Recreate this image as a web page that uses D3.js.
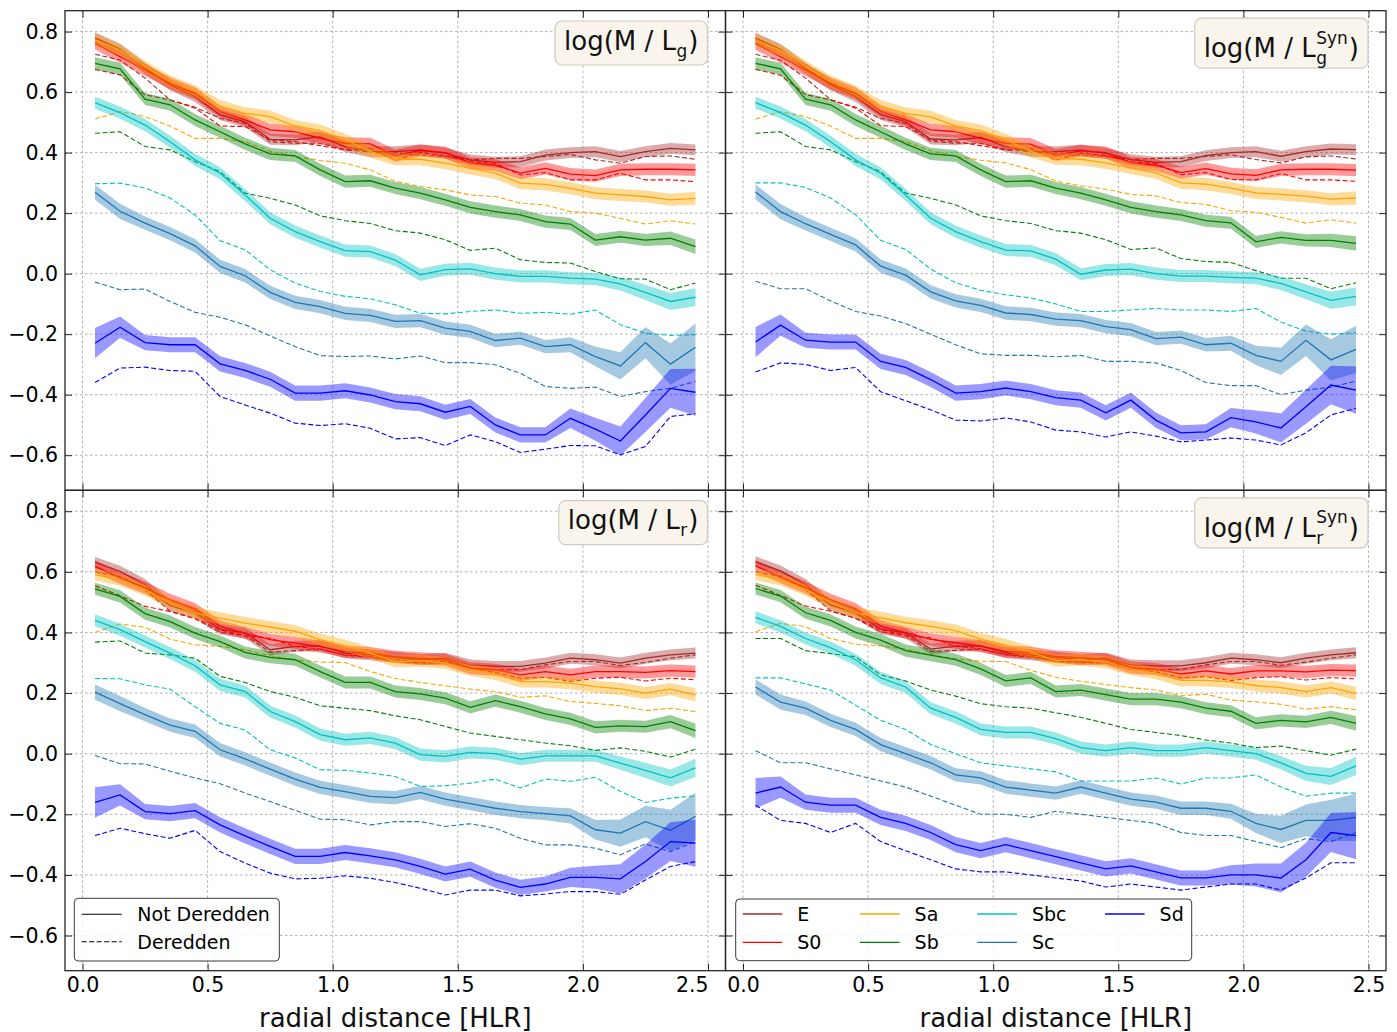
<!DOCTYPE html>
<html><head><meta charset="utf-8">
<script src="https://cdn.jsdelivr.net/npm/d3@7"></script>
<style>body{margin:0;background:#fff}svg text{font-family:"DejaVu Sans",sans-serif}</style>
</head><body><svg id="chart" width="1397" height="1032"></svg>
<script>
// ---------------- data ----------------
const radius = [0.05,0.15,0.25,0.35,0.45,0.55,0.65,0.75,0.85,0.95,1.05,1.15,1.25,1.35,1.45,1.55,1.65,1.75,1.85,1.95,2.05,2.15,2.25,2.35,2.45];
const seriesNames = ["E","S0","Sa","Sb","Sbc","Sc","Sd"];
const xTicks = [0.0,0.5,1.0,1.5,2.0,2.5];
const yTicks = [0.8,0.6,0.4,0.2,0.0,-0.2,-0.4,-0.6];
const styleNames = ["Not Deredden","Deredden"];
const xLabel = "radial distance [HLR]";

// band half-widths (per series)
const bandE  = [0.018,0.018,0.018,0.018,0.018,0.018,0.018,0.018,0.018,0.018,0.018,0.018,0.018,0.018,0.018,0.018,0.018,0.018,0.018,0.018,0.018,0.018,0.018,0.018,0.018];
const bandS0 = [0.02,0.02,0.02,0.02,0.02,0.02,0.02,0.02,0.02,0.02,0.02,0.02,0.02,0.02,0.02,0.02,0.02,0.02,0.02,0.02,0.02,0.02,0.02,0.02,0.02];
const bandSa = [0.02,0.02,0.02,0.02,0.02,0.02,0.02,0.02,0.02,0.02,0.02,0.02,0.02,0.02,0.02,0.02,0.02,0.02,0.02,0.02,0.02,0.02,0.02,0.02,0.022];
const bandSb = [0.02,0.02,0.02,0.02,0.02,0.02,0.02,0.02,0.02,0.02,0.02,0.02,0.02,0.02,0.02,0.02,0.02,0.02,0.02,0.02,0.02,0.02,0.02,0.022,0.024];
const bandSbc= [0.02,0.02,0.02,0.02,0.02,0.02,0.02,0.02,0.02,0.02,0.02,0.02,0.02,0.02,0.02,0.02,0.02,0.02,0.02,0.02,0.02,0.022,0.025,0.028,0.03];
const bandSc = [0.025,0.025,0.022,0.022,0.022,0.022,0.022,0.022,0.022,0.022,0.022,0.022,0.022,0.022,0.022,0.022,0.022,0.022,0.022,0.025,0.032,0.045,0.052,0.068,0.078];
const bandSd = [0.05,0.035,0.025,0.025,0.025,0.025,0.025,0.025,0.025,0.025,0.025,0.025,0.025,0.025,0.025,0.025,0.025,0.025,0.025,0.032,0.038,0.048,0.056,0.064,0.078];

// Panel log(M/L_g)
const g_E    = [0.78,0.742,0.679,0.624,0.585,0.525,0.502,0.444,0.442,0.453,0.42,0.403,0.403,0.409,0.398,0.376,0.368,0.37,0.392,0.40,0.403,0.387,0.403,0.414,0.409];
const g_E_d  = [0.725,0.706,0.646,0.574,0.55,0.513,0.497,0.436,0.431,0.431,0.409,0.403,0.398,0.392,0.387,0.376,0.381,0.381,0.387,0.394,0.376,0.365,0.387,0.389,0.378];
const g_S0   = [0.761,0.717,0.673,0.629,0.596,0.536,0.508,0.475,0.469,0.447,0.431,0.429,0.39,0.407,0.40,0.365,0.359,0.332,0.348,0.329,0.324,0.343,0.345,0.345,0.343];
const g_S0_d = [0.675,0.657,0.591,0.574,0.547,0.488,0.486,0.442,0.436,0.423,0.409,0.414,0.375,0.40,0.39,0.37,0.365,0.326,0.334,0.31,0.31,0.332,0.31,0.31,0.304];
const g_Sa   = [0.772,0.739,0.684,0.635,0.602,0.554,0.53,0.519,0.488,0.473,0.442,0.403,0.378,0.378,0.365,0.348,0.332,0.299,0.295,0.282,0.266,0.26,0.255,0.244,0.249];
const g_Sa_d = [0.511,0.536,0.519,0.488,0.447,0.447,0.436,0.405,0.387,0.374,0.365,0.343,0.305,0.288,0.277,0.26,0.255,0.233,0.227,0.205,0.2,0.183,0.164,0.175,0.164];
const g_Sb   = [0.695,0.677,0.577,0.558,0.508,0.469,0.429,0.396,0.389,0.343,0.304,0.307,0.283,0.266,0.244,0.219,0.205,0.194,0.172,0.164,0.111,0.122,0.111,0.117,0.089];
const g_Sb_d = [0.464,0.469,0.42,0.409,0.37,0.337,0.266,0.249,0.227,0.191,0.175,0.166,0.142,0.134,0.112,0.077,0.084,0.046,0.037,0.035,0.007,-0.017,-0.018,-0.053,-0.031];
const g_Sbc  = [0.565,0.532,0.491,0.436,0.376,0.332,0.26,0.183,0.139,0.106,0.076,0.073,0.045,-0.004,0.013,0.016,0.0,-0.009,-0.009,-0.015,-0.018,-0.034,-0.062,-0.092,-0.078];
const g_Sbc_d= [0.297,0.299,0.283,0.25,0.194,0.109,0.079,0.013,-0.031,-0.059,-0.075,-0.083,-0.103,-0.131,-0.133,-0.125,-0.12,-0.131,-0.128,-0.134,-0.12,-0.169,-0.197,-0.204,-0.202];
const g_Sc   = [0.269,0.206,0.167,0.132,0.092,0.024,-0.007,-0.062,-0.095,-0.109,-0.131,-0.138,-0.158,-0.155,-0.18,-0.191,-0.221,-0.213,-0.241,-0.235,-0.274,-0.305,-0.228,-0.299,-0.243];
const g_Sc_d = [-0.028,-0.053,-0.051,-0.092,-0.128,-0.144,-0.169,-0.206,-0.241,-0.271,-0.274,-0.272,-0.282,-0.272,-0.294,-0.294,-0.301,-0.329,-0.373,-0.379,-0.375,-0.406,-0.39,-0.379,-0.356];
const g_Sd   = [-0.23,-0.177,-0.228,-0.235,-0.235,-0.298,-0.32,-0.349,-0.395,-0.395,-0.387,-0.401,-0.423,-0.43,-0.458,-0.439,-0.5,-0.533,-0.533,-0.478,-0.514,-0.553,-0.467,-0.379,-0.392];
const g_Sd_d = [-0.36,-0.312,-0.309,-0.32,-0.323,-0.406,-0.434,-0.461,-0.494,-0.502,-0.496,-0.511,-0.546,-0.542,-0.568,-0.533,-0.555,-0.591,-0.58,-0.568,-0.569,-0.599,-0.571,-0.472,-0.463];

// Panel log(M/L_g^Syn)
const gs_E    = [0.779,0.741,0.679,0.624,0.585,0.526,0.502,0.445,0.442,0.45,0.42,0.404,0.403,0.408,0.398,0.377,0.368,0.37,0.39,0.40,0.403,0.388,0.403,0.412,0.41];
const gs_E_d  = [0.725,0.705,0.646,0.575,0.55,0.513,0.497,0.437,0.431,0.431,0.41,0.403,0.398,0.392,0.387,0.377,0.381,0.381,0.387,0.393,0.377,0.366,0.386,0.389,0.379];
const gs_S0   = [0.76,0.717,0.673,0.629,0.596,0.537,0.508,0.475,0.469,0.447,0.431,0.428,0.392,0.406,0.40,0.366,0.359,0.334,0.347,0.33,0.325,0.343,0.345,0.345,0.342];
const gs_S0_d = [0.675,0.656,0.592,0.574,0.547,0.489,0.486,0.442,0.436,0.423,0.409,0.413,0.376,0.398,0.39,0.37,0.364,0.327,0.334,0.311,0.31,0.331,0.31,0.31,0.305];
const gs_Sa   = [0.771,0.738,0.684,0.635,0.601,0.554,0.53,0.518,0.488,0.473,0.442,0.404,0.38,0.378,0.366,0.349,0.333,0.30,0.296,0.283,0.267,0.262,0.256,0.246,0.25];
const gs_Sa_d = [0.511,0.535,0.519,0.488,0.447,0.447,0.436,0.406,0.388,0.375,0.366,0.344,0.306,0.29,0.279,0.262,0.257,0.235,0.229,0.208,0.203,0.186,0.167,0.178,0.167];
const gs_Sb   = [0.695,0.677,0.577,0.558,0.508,0.469,0.429,0.396,0.389,0.343,0.304,0.307,0.283,0.266,0.244,0.219,0.205,0.194,0.175,0.168,0.105,0.12,0.11,0.11,0.10];
const gs_Sb_d = [0.464,0.469,0.42,0.409,0.37,0.337,0.266,0.249,0.227,0.191,0.175,0.166,0.142,0.134,0.112,0.08,0.085,0.05,0.04,0.037,0.01,-0.015,-0.015,-0.05,-0.03];
const gs_Sbc  = [0.565,0.532,0.491,0.436,0.376,0.332,0.26,0.183,0.139,0.106,0.078,0.075,0.048,-0.002,0.012,0.015,0.0,-0.008,-0.008,-0.012,-0.015,-0.032,-0.06,-0.088,-0.075];
const gs_Sbc_d= [0.30,0.30,0.285,0.25,0.195,0.11,0.08,0.015,-0.03,-0.055,-0.07,-0.08,-0.10,-0.125,-0.125,-0.12,-0.115,-0.12,-0.12,-0.125,-0.115,-0.16,-0.19,-0.20,-0.195];
const gs_Sc   = [0.27,0.205,0.165,0.13,0.095,0.025,-0.005,-0.06,-0.09,-0.105,-0.13,-0.135,-0.15,-0.155,-0.175,-0.185,-0.215,-0.21,-0.235,-0.23,-0.27,-0.29,-0.22,-0.285,-0.25];
const gs_Sc_d = [-0.025,-0.05,-0.05,-0.09,-0.125,-0.14,-0.165,-0.2,-0.235,-0.265,-0.27,-0.27,-0.275,-0.27,-0.29,-0.29,-0.295,-0.32,-0.36,-0.37,-0.37,-0.40,-0.385,-0.375,-0.355];
const gs_Sd   = [-0.226,-0.17,-0.22,-0.226,-0.226,-0.29,-0.31,-0.35,-0.395,-0.39,-0.378,-0.39,-0.41,-0.418,-0.46,-0.418,-0.484,-0.526,-0.523,-0.476,-0.49,-0.51,-0.44,-0.368,-0.385];
const gs_Sd_d = [-0.325,-0.295,-0.30,-0.32,-0.31,-0.39,-0.42,-0.45,-0.484,-0.487,-0.477,-0.49,-0.517,-0.523,-0.54,-0.523,-0.537,-0.556,-0.55,-0.543,-0.55,-0.566,-0.526,-0.467,-0.445];

// Panel log(M/L_r)
const r_E    = [0.631,0.602,0.558,0.488,0.466,0.411,0.398,0.343,0.354,0.356,0.332,0.326,0.318,0.31,0.315,0.293,0.288,0.288,0.299,0.315,0.31,0.299,0.315,0.326,0.332];
const r_E_d  = [0.60,0.585,0.54,0.47,0.445,0.40,0.39,0.335,0.34,0.345,0.325,0.318,0.31,0.304,0.304,0.282,0.277,0.277,0.293,0.304,0.304,0.291,0.301,0.315,0.326];
const r_S0   = [0.618,0.58,0.547,0.508,0.477,0.42,0.398,0.376,0.365,0.354,0.337,0.332,0.32,0.315,0.31,0.282,0.277,0.26,0.271,0.26,0.271,0.271,0.268,0.274,0.271];
const r_S0_d = [0.554,0.521,0.486,0.469,0.447,0.409,0.389,0.381,0.354,0.345,0.326,0.321,0.305,0.30,0.299,0.277,0.268,0.249,0.252,0.238,0.249,0.252,0.24,0.249,0.244];
const r_Sa   = [0.591,0.574,0.541,0.497,0.464,0.447,0.431,0.418,0.404,0.376,0.356,0.332,0.304,0.307,0.299,0.277,0.263,0.238,0.238,0.233,0.221,0.214,0.2,0.213,0.194];
const r_Sa_d = [0.40,0.428,0.417,0.378,0.359,0.354,0.343,0.323,0.31,0.302,0.301,0.271,0.248,0.235,0.224,0.213,0.205,0.186,0.191,0.172,0.166,0.158,0.142,0.15,0.139];
const r_Sb   = [0.544,0.519,0.462,0.436,0.398,0.37,0.334,0.318,0.31,0.271,0.235,0.235,0.205,0.197,0.183,0.153,0.175,0.155,0.131,0.115,0.087,0.092,0.089,0.106,0.076];
const r_Sb_d = [0.368,0.372,0.332,0.326,0.315,0.255,0.235,0.205,0.186,0.158,0.15,0.142,0.125,0.112,0.09,0.068,0.057,0.046,0.035,0.026,0.011,0.019,0.008,-0.011,0.015];
const r_Sbc  = [0.44,0.409,0.37,0.332,0.29,0.227,0.205,0.139,0.106,0.063,0.046,0.052,0.035,-0.003,-0.009,0.004,0.0,-0.018,-0.007,-0.007,-0.007,-0.031,-0.055,-0.08,-0.047];
const r_Sbc_d= [0.248,0.247,0.227,0.213,0.155,0.10,0.078,0.013,-0.014,-0.053,-0.055,-0.064,-0.075,-0.108,-0.106,-0.097,-0.084,-0.113,-0.084,-0.091,-0.078,-0.125,-0.161,-0.147,-0.139];
const r_Sc   = [0.203,0.165,0.129,0.094,0.074,0.013,-0.017,-0.051,-0.084,-0.111,-0.125,-0.141,-0.145,-0.128,-0.15,-0.165,-0.18,-0.191,-0.198,-0.205,-0.251,-0.262,-0.224,-0.253,-0.207];
const r_Sc_d = [-0.006,-0.033,-0.034,-0.058,-0.08,-0.099,-0.13,-0.158,-0.187,-0.216,-0.218,-0.235,-0.224,-0.224,-0.24,-0.231,-0.246,-0.279,-0.301,-0.301,-0.312,-0.334,-0.298,-0.323,-0.29];
const r_Sd   = [-0.161,-0.136,-0.191,-0.198,-0.188,-0.235,-0.271,-0.306,-0.339,-0.339,-0.326,-0.337,-0.35,-0.372,-0.397,-0.381,-0.417,-0.441,-0.43,-0.408,-0.408,-0.413,-0.356,-0.29,-0.295];
const r_Sd_d = [-0.27,-0.246,-0.264,-0.279,-0.253,-0.323,-0.361,-0.394,-0.413,-0.411,-0.403,-0.411,-0.425,-0.444,-0.466,-0.45,-0.45,-0.469,-0.463,-0.455,-0.455,-0.464,-0.417,-0.372,-0.356];

// Panel log(M/L_r^Syn)
const rs_E    = [0.633,0.603,0.558,0.49,0.466,0.412,0.398,0.345,0.355,0.356,0.333,0.326,0.318,0.31,0.315,0.293,0.29,0.29,0.30,0.315,0.31,0.30,0.315,0.326,0.333];
const rs_E_d  = [0.60,0.585,0.541,0.472,0.446,0.402,0.391,0.337,0.341,0.345,0.326,0.318,0.31,0.305,0.304,0.283,0.278,0.278,0.293,0.304,0.304,0.292,0.302,0.315,0.326];
const rs_S0   = [0.62,0.582,0.548,0.508,0.477,0.421,0.399,0.377,0.366,0.355,0.338,0.333,0.321,0.316,0.311,0.284,0.279,0.263,0.273,0.263,0.273,0.273,0.27,0.276,0.274];
const rs_S0_d = [0.556,0.522,0.487,0.47,0.448,0.41,0.39,0.382,0.355,0.346,0.327,0.322,0.306,0.301,0.30,0.279,0.27,0.251,0.254,0.241,0.251,0.254,0.243,0.251,0.247];
const rs_Sa   = [0.592,0.575,0.541,0.498,0.465,0.448,0.432,0.42,0.406,0.378,0.358,0.335,0.307,0.31,0.302,0.28,0.266,0.242,0.242,0.237,0.225,0.218,0.205,0.218,0.199];
const rs_Sa_d = [0.402,0.43,0.419,0.38,0.361,0.356,0.345,0.326,0.313,0.305,0.304,0.275,0.252,0.239,0.228,0.218,0.21,0.191,0.196,0.177,0.171,0.163,0.147,0.155,0.145];
const rs_Sb   = [0.545,0.52,0.465,0.44,0.40,0.375,0.34,0.325,0.31,0.28,0.24,0.25,0.205,0.21,0.195,0.18,0.18,0.17,0.15,0.14,0.10,0.11,0.105,0.12,0.10];
const rs_Sb_d = [0.38,0.38,0.34,0.33,0.32,0.26,0.24,0.21,0.19,0.165,0.155,0.15,0.135,0.12,0.10,0.08,0.07,0.06,0.045,0.035,0.02,0.025,0.01,-0.005,0.015];
const rs_Sbc  = [0.45,0.42,0.38,0.35,0.31,0.25,0.22,0.15,0.12,0.08,0.07,0.07,0.05,0.02,0.01,0.02,0.01,0.01,0.02,0.01,0.0,-0.03,-0.065,-0.075,-0.04];
const rs_Sbc_d= [0.25,0.25,0.23,0.21,0.16,0.11,0.08,0.03,0.0,-0.03,-0.04,-0.05,-0.06,-0.09,-0.09,-0.09,-0.08,-0.10,-0.08,-0.08,-0.07,-0.11,-0.14,-0.13,-0.13];
const rs_Sc   = [0.22,0.17,0.15,0.11,0.08,0.03,0.0,-0.03,-0.07,-0.08,-0.11,-0.12,-0.13,-0.11,-0.13,-0.15,-0.16,-0.18,-0.18,-0.19,-0.23,-0.25,-0.22,-0.22,-0.21];
const rs_Sc_d = [0.01,-0.03,-0.03,-0.05,-0.07,-0.09,-0.11,-0.14,-0.17,-0.20,-0.20,-0.21,-0.19,-0.20,-0.21,-0.22,-0.23,-0.26,-0.27,-0.27,-0.29,-0.31,-0.28,-0.29,-0.26];
const rs_Sd   = [-0.13,-0.11,-0.16,-0.17,-0.17,-0.21,-0.23,-0.26,-0.30,-0.32,-0.30,-0.32,-0.34,-0.36,-0.38,-0.37,-0.39,-0.41,-0.41,-0.40,-0.40,-0.41,-0.35,-0.26,-0.27];
const rs_Sd_d = [-0.17,-0.22,-0.23,-0.26,-0.23,-0.29,-0.32,-0.35,-0.38,-0.39,-0.39,-0.40,-0.41,-0.42,-0.44,-0.43,-0.44,-0.45,-0.44,-0.43,-0.43,-0.45,-0.41,-0.36,-0.36];

// ---------------- styling / layout ----------------
const colors = ["#a52a2a","#ff0000","#ffa500","#008000","#00c2c2","#1f77b4","#0000ff"];
const bands = [bandE,bandS0,bandSa,bandSb,bandSbc,bandSc,bandSd];
const xDomain = [-0.07, 2.57], yDomain = [-0.716, 0.869];
const colL = [65, 725.5], colR = [725.5, 1386];
const rowT = [10.7, 490.3], rowB = [490.3, 970.7];

const panels = [
  {cols: colL, rows: rowT, sub: "g", sup: null, xlab: false, ylab: true,
   data: [[g_E,g_E_d],[g_S0,g_S0_d],[g_Sa,g_Sa_d],[g_Sb,g_Sb_d],[g_Sbc,g_Sbc_d],[g_Sc,g_Sc_d],[g_Sd,g_Sd_d]]},
  {cols: colR, rows: rowT, sub: "g", sup: "Syn", xlab: false, ylab: false,
   data: [[gs_E,gs_E_d],[gs_S0,gs_S0_d],[gs_Sa,gs_Sa_d],[gs_Sb,gs_Sb_d],[gs_Sbc,gs_Sbc_d],[gs_Sc,gs_Sc_d],[gs_Sd,gs_Sd_d]]},
  {cols: colL, rows: rowB, sub: "r", sup: null, xlab: true, ylab: true, legend: "style", lastRight: true,
   data: [[r_E,r_E_d],[r_S0,r_S0_d],[r_Sa,r_Sa_d],[r_Sb,r_Sb_d],[r_Sbc,r_Sbc_d],[r_Sc,r_Sc_d],[r_Sd,r_Sd_d]]},
  {cols: colR, rows: rowB, sub: "r", sup: "Syn", xlab: true, ylab: false, legend: "series",
   data: [[rs_E,rs_E_d],[rs_S0,rs_S0_d],[rs_Sa,rs_Sa_d],[rs_Sb,rs_Sb_d],[rs_Sbc,rs_Sbc_d],[rs_Sc,rs_Sc_d],[rs_Sd,rs_Sd_d]]}
];

const svg = d3.select("#chart");
const fmt = d3.format(".1f");
const FRAME = "#262626";

panels.forEach((p, pi) => {
  const x = d3.scaleLinear().domain(xDomain).range(p.cols);
  const y = d3.scaleLinear().domain(yDomain).range([p.rows[1], p.rows[0]]);
  const g = svg.append("g");
  const clipId = "clip" + pi;
  g.append("clipPath").attr("id", clipId).append("rect")
    .attr("x", p.cols[0]).attr("y", p.rows[0]).attr("width", p.cols[1]-p.cols[0]).attr("height", p.rows[1]-p.rows[0]);

  // grid
  const grid = g.append("g").attr("stroke", "#b0b0b0").attr("stroke-width", 1).attr("stroke-dasharray", "2.5,2.5");
  grid.selectAll("line.v").data(xTicks).join("line").attr("class","v")
    .attr("x1", d => x(d)).attr("x2", d => x(d)).attr("y1", p.rows[0]).attr("y2", p.rows[1]);
  grid.selectAll("line.h").data(yTicks).join("line").attr("class","h")
    .attr("y1", d => y(d)).attr("y2", d => y(d)).attr("x1", p.cols[0]).attr("x2", p.cols[1]);

  const plot = g.append("g").attr("clip-path", `url(#${clipId})`);
  const area = d3.area().x(d => x(d.r)).y0(d => y(d.v - d.b)).y1(d => y(d.v + d.b));
  const line = d3.line().x(d => x(d.r)).y(d => y(d.v));
  p.data.forEach((pair, si) => {
    const solid = radius.map((r, j) => ({r, v: pair[0][j], b: bands[si][j]}));
    const dashed = radius.map((r, j) => ({r, v: pair[1][j]}));
    plot.append("path").datum(solid).attr("d", area).attr("fill", colors[si]).attr("fill-opacity", 0.4).attr("stroke", "none");
    plot.append("path").datum(solid).attr("d", line).attr("fill", "none").attr("stroke", colors[si]).attr("stroke-width", 1.3);
    plot.append("path").datum(dashed).attr("d", line).attr("fill", "none").attr("stroke", colors[si]).attr("stroke-width", 1.1).attr("stroke-dasharray", "5,2.5");
  });

  // axes with inward ticks
  const styleAxis = sel => { sel.select(".domain").remove(); sel.attr("color", FRAME).attr("font-size", 20.5).attr("font-family", "DejaVu Sans"); sel.selectAll("line").attr("stroke-width", 1); };
  const bx = g.append("g").attr("transform", `translate(0,${p.rows[1]})`)
    .call(d3.axisBottom(x).tickValues(xTicks).tickSize(-7).tickPadding(6.5).tickFormat(p.xlab ? fmt : () => ""))
    .call(styleAxis);
  bx.selectAll("text").attr("fill", "#000");
  if (p.lastRight) {
    bx.selectAll(".tick").filter(d => d === xTicks[xTicks.length - 1]).select("text")
      .attr("text-anchor", "end").attr("x", 0);
  }
  g.append("g").attr("transform", `translate(0,${p.rows[0]})`)
    .call(d3.axisTop(x).tickValues(xTicks).tickSize(-7).tickFormat(() => "")).call(styleAxis);
  g.append("g").attr("transform", `translate(${p.cols[0]},0)`)
    .call(d3.axisLeft(y).tickValues(yTicks).tickSize(-7).tickPadding(7).tickFormat(p.ylab ? fmt : () => ""))
    .call(styleAxis).selectAll("text").attr("fill", "#000");
  g.append("g").attr("transform", `translate(${p.cols[1]},0)`)
    .call(d3.axisRight(y).tickValues(yTicks).tickSize(-7).tickFormat(() => "")).call(styleAxis);

  // frame
  g.append("rect").attr("x", p.cols[0]).attr("y", p.rows[0]).attr("width", p.cols[1]-p.cols[0]).attr("height", p.rows[1]-p.rows[0])
    .attr("fill", "none").attr("stroke", FRAME).attr("stroke-width", 1.3);

  // title box
  const tg = g.append("g");
  const fs = 26, sfs = 17;
  const t1 = tg.append("text").attr("x", 0).attr("y", 0).attr("font-size", fs).attr("fill", "#111").text("log(M / L");
  const w1 = t1.node().getComputedTextLength();
  const ts = tg.append("text").attr("x", w1 + 0.5).attr("y", 7).attr("font-size", sfs).attr("fill", "#111").text(p.sub);
  let w2 = ts.node().getComputedTextLength();
  if (p.sup) {
    const tp = tg.append("text").attr("x", w1 + 0.5).attr("y", -13.5).attr("font-size", sfs).attr("fill", "#111").text(p.sup);
    w2 = Math.max(w2, tp.node().getComputedTextLength());
  }
  const t3 = tg.append("text").attr("x", w1 + w2 + 1.5).attr("y", 0).attr("font-size", fs).attr("fill", "#111").text(")");
  const wt = w1 + w2 + 1.5 + t3.node().getComputedTextLength();
  const boxR = p.cols[1] - 18, padX = 9;
  const boxTop = p.rows[0] + (p.sup ? 7.5 : 10.3);
  const boxH = p.sup ? 50 : 44;
  const baseY = p.sup ? boxTop + 39 : boxTop + 28.6;
  tg.insert("rect", "text").attr("x", -padX).attr("y", -(baseY - boxTop))
    .attr("width", wt + 2*padX).attr("height", boxH).attr("rx", 7).attr("ry", 7)
    .attr("fill", "#f9f5ec").attr("stroke", "#cfcac2").attr("stroke-width", 1.2);
  tg.attr("transform", `translate(${boxR - padX - wt},${baseY})`);

  // legends
  if (p.legend === "style") {
    const lg = g.append("g");
    lg.append("rect").attr("x", 74.3).attr("y", 898.3).attr("width", 205).attr("height", 62.7).attr("rx", 4)
      .attr("fill", "#fff").attr("fill-opacity", 0.85).attr("stroke", "#3a3a3a").attr("stroke-width", 1);
    styleNames.forEach((nm, k) => {
      const yy = 914.3 + k * 27.4;
      lg.append("line").attr("x1", 81.7).attr("x2", 121.7).attr("y1", yy).attr("y2", yy).attr("stroke", "#000").attr("stroke-width", 1.1)
        .attr("stroke-dasharray", k === 1 ? "5,2.5" : null);
      lg.append("text").attr("x", 137.3).attr("y", yy).attr("dy", "0.36em").attr("font-size", 19).text(nm);
    });
  }
  if (p.legend === "series") {
    const lg = g.append("g");
    lg.append("rect").attr("x", 735.7).attr("y", 899).attr("width", 456).attr("height", 61.7).attr("rx", 4)
      .attr("fill", "#fff").attr("fill-opacity", 0.85).attr("stroke", "#3a3a3a").attr("stroke-width", 1);
    const colX = [742.7, 860, 977.3, 1105];
    seriesNames.forEach((nm, k) => {
      const c = Math.floor(k / 2), rI = k % 2;
      const yy = 914 + rI * 28.3;
      lg.append("line").attr("x1", colX[c]).attr("x2", colX[c] + 39.6).attr("y1", yy).attr("y2", yy).attr("stroke", colors[k]).attr("stroke-width", 1.3);
      lg.append("text").attr("x", colX[c] + 54.6).attr("y", yy).attr("dy", "0.36em").attr("font-size", 19).text(nm);
    });
  }

  // x label
  if (p.xlab) {
    g.append("text").attr("x", (p.cols[0] + p.cols[1]) / 2).attr("y", 1027).attr("text-anchor", "middle")
      .attr("font-size", 26).attr("fill", "#111").text(xLabel);
  }
});
</script></body></html>
